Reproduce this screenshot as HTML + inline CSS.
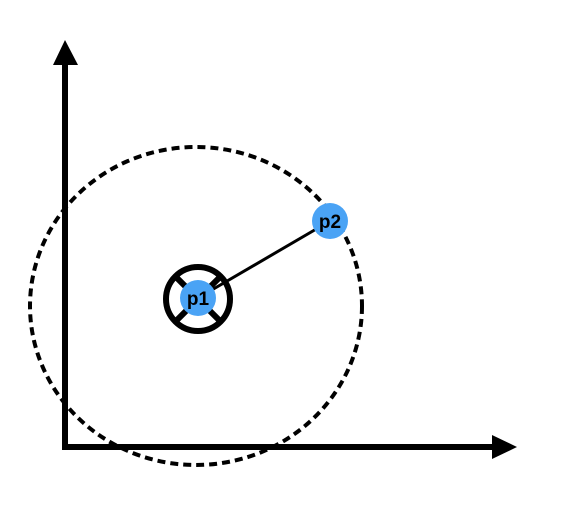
<!DOCTYPE html>
<html><head><meta charset="utf-8"><style>
html,body{margin:0;padding:0;background:#fff;width:572px;height:532px;overflow:hidden}
svg{display:block}
text{font-family:"Liberation Sans",sans-serif;font-weight:bold;font-size:19px}
</style></head><body>
<svg width="572" height="532" viewBox="0 0 572 532">
<g>
<ellipse cx="196" cy="306" rx="166" ry="159" fill="none" stroke="#000" stroke-width="4" stroke-dasharray="8 5"/>
</g>
<g>
<line x1="65" y1="450" x2="65" y2="62" stroke="#000" stroke-width="6"/>
<polygon points="65,40 53,65 78,65" fill="#000"/>
</g>
<g>
<line x1="62" y1="447" x2="495" y2="447" stroke="#000" stroke-width="6"/>
<polygon points="517,447 492,435 492,459" fill="#000"/>
</g>
<g>
<circle cx="198" cy="299" r="32" fill="#fff" stroke="#000" stroke-width="6"/>
<line x1="176" y1="277" x2="220" y2="321" stroke="#000" stroke-width="6"/>
<line x1="220" y1="277" x2="176" y2="321" stroke="#000" stroke-width="6"/>
</g>
<line x1="198" y1="298" x2="330" y2="221" stroke="#000" stroke-width="3"/>
<g>
<circle cx="198" cy="298" r="18" fill="#4aa3f5"/>
<text x="198" y="305" text-anchor="middle">p1</text>
</g>
<g>
<circle cx="330" cy="221" r="18" fill="#4aa3f5"/>
<text x="330" y="228" text-anchor="middle">p2</text>
</g>
</svg>
</body></html>
